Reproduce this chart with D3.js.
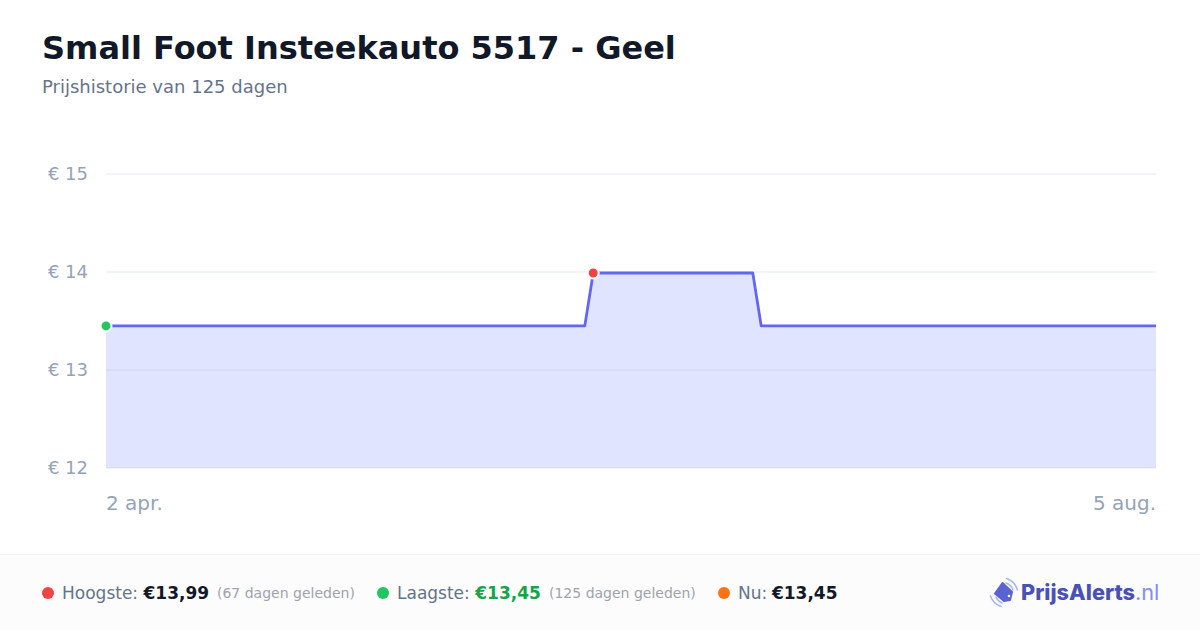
<!DOCTYPE html>
<html><head><meta charset="utf-8">
<script src="https://cdn.jsdelivr.net/npm/d3@7"></script>
<style>html,body{margin:0;padding:0;background:#fff;overflow:hidden}svg{display:block}text{font-family:"DejaVu Sans",sans-serif}</style>
</head><body><svg id="c" width="1200" height="630"></svg>
<script>
const title = "Small Foot Insteekauto 5517 - Geel";
const subtitle = "Prijshistorie van 125 dagen";
const dayOffsets = [0, 57, 58, 77, 78, 125];
const prices = [13.45, 13.45, 13.99, 13.99, 13.45, 13.45];
const yTicks = [12, 13, 14, 15];
const xTickDays = [0, 125];
const xTickLabels = ["2 apr.", "5 aug."];
const highDay = 58, lowDay = 0;

const svg = d3.select("#c");
const x = d3.scaleLinear().domain([0, 125]).range([106, 1156]);
const y = d3.scaleLinear().domain([12, 15]).range([468, 174]);
const pts = dayOffsets.map((d, i) => [d, prices[i]]);

svg.append("text").attr("x", 42).attr("y", 59).attr("font-size", 32).attr("font-weight", 700).attr("fill", "#111827").text(title);
svg.append("text").attr("x", 42).attr("y", 93).attr("font-size", 18).attr("fill", "#64748b").text(subtitle);

svg.selectAll(".grid").data(yTicks).join("line").attr("class", "grid")
  .attr("x1", 106).attr("x2", 1156).attr("y1", d => y(d)).attr("y2", d => y(d))
  .attr("stroke", "#f1f5f9").attr("stroke-width", 2);

svg.selectAll(".yl").data(yTicks).join("text").attr("class", "yl")
  .attr("x", 88).attr("y", d => y(d) + 6).attr("text-anchor", "end")
  .attr("font-size", 18).attr("fill", "#94a3b8").text(d => "€ " + d);

svg.append("path").datum(pts)
  .attr("d", d3.area().x(d => x(d[0])).y0(y(12)).y1(d => y(d[1])))
  .attr("fill", "#a6b2ff").attr("fill-opacity", 0.35);
svg.append("path").datum(pts)
  .attr("d", d3.line().x(d => x(d[0])).y(d => y(d[1])))
  .attr("fill", "none").attr("stroke", "#6366f1").attr("stroke-width", 2.8).attr("stroke-linejoin", "round");

svg.append("circle").attr("cx", x(highDay)).attr("cy", y(prices[2])).attr("r", 5.5).attr("fill", "#ef4444").attr("stroke", "#fff").attr("stroke-width", 2);
svg.append("circle").attr("cx", x(lowDay)).attr("cy", y(prices[0])).attr("r", 5.5).attr("fill", "#22c55e").attr("stroke", "#fff").attr("stroke-width", 2);

svg.selectAll(".xl").data(xTickDays).join("text").attr("class", "xl")
  .attr("x", d => x(d)).attr("y", 510).attr("font-size", 20)
  .attr("text-anchor", (d, i) => i ? "end" : "start").attr("fill", "#94a3b8")
  .text((d, i) => xTickLabels[i]);

// footer
svg.append("rect").attr("x", 0).attr("y", 554).attr("width", 1200).attr("height", 76).attr("fill", "#fcfcfc");
svg.append("line").attr("x1", 0).attr("x2", 1200).attr("y1", 554.5).attr("y2", 554.5).attr("stroke", "#f1f5f9");

const stats = [
  {cx: 48, color: "#ef4444", tx: 62, label: "Hoogste: ", value: "€13,99", vc: "#111827", note: "(67 dagen geleden)", nx: 217},
  {cx: 383, color: "#22c55e", tx: 397, label: "Laagste: ", value: "€13,45", vc: "#16a34a", note: "(125 dagen geleden)", nx: 549},
  {cx: 724, color: "#f97316", tx: 738, label: "Nu: ", value: "€13,45", vc: "#111827", note: "", nx: 0}
];
stats.forEach(s => {
  svg.append("circle").attr("cx", s.cx).attr("cy", 593).attr("r", 6).attr("fill", s.color);
  const t = svg.append("text").attr("x", s.tx).attr("y", 599).attr("font-size", 17);
  t.append("tspan").attr("fill", "#64748b").text(s.label);
  const v = t.append("tspan").attr("fill", s.vc).attr("font-weight", 700).text(s.value);
  if (s.label === "Nu: ") v.attr("dx", -0.7);
  if (s.note) svg.append("text").attr("x", s.nx).attr("y", 598).attr("font-size", 14).attr("fill", "#9ca3af").text(s.note);
});

// logo
const logo = svg.append("g");
logo.append("path").attr("d", "M1002.5 583 L1012 592 L1010 600 L1004 601 L995 593.5 Z").attr("fill", "#5b63d3").attr("stroke", "#5b63d3").attr("stroke-width", 2).attr("stroke-linejoin", "round");
logo.append("circle").attr("cx", 1009).attr("cy", 596).attr("r", 1.3).attr("fill", "#fff");
["M1006 583 A11 11 0 0 1 1013 590", "M1006.5 578.5 A17 17 0 0 1 1017.5 590", "M996 597 A11 11 0 0 0 1002 603", "M990.5 596 A17 17 0 0 0 1001 606.5"].forEach(a =>
  logo.append("path").attr("d", a).attr("fill", "none").attr("stroke", "#a5b4fc").attr("stroke-width", 1.5).attr("stroke-linecap", "round"));
const lt = svg.append("text").attr("x", 1021).attr("y", 600).attr("font-size", 21.7).style("font-family", "Inter, sans-serif");
lt.append("tspan").attr("fill", "#4a51b5").attr("font-weight", 800).text("PrijsAlerts");
lt.append("tspan").attr("fill", "#818cf8").attr("font-weight", 400).text(".nl");
</script></body></html>
